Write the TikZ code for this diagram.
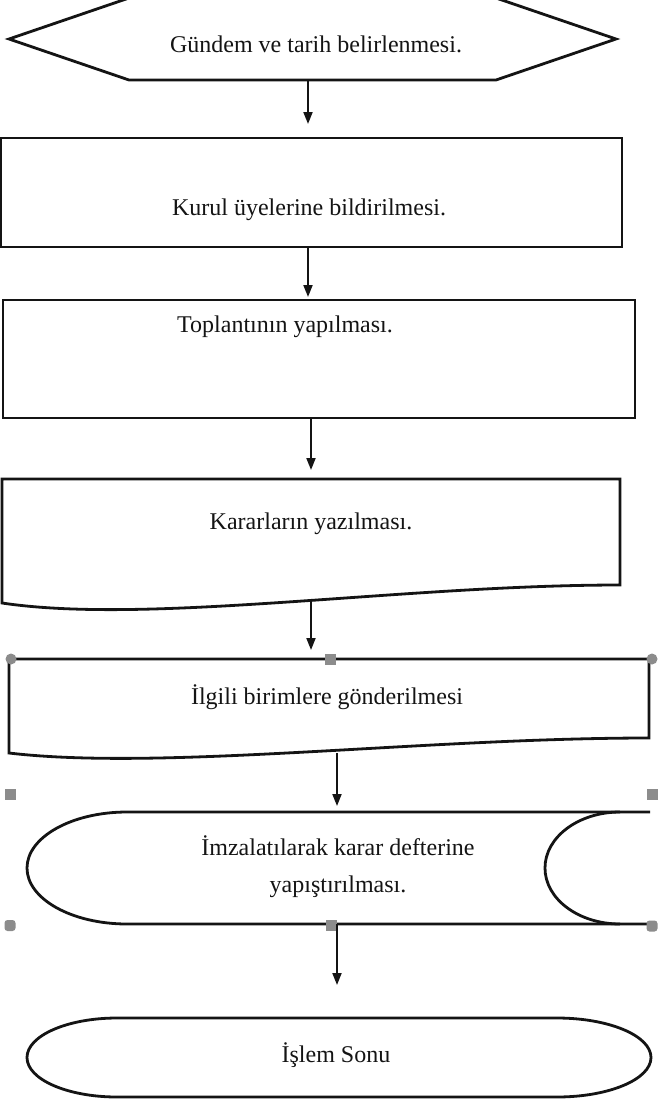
\documentclass[tikz,border=0pt]{standalone}
\usepackage{fontspec}
\setmainfont{Liberation Serif}
\usetikzlibrary{arrows.meta}
\definecolor{hnd}{HTML}{8C8C8C}
\definecolor{ink}{HTML}{141414}
\begin{document}
\begin{tikzpicture}[x=1pt,y=-1pt,
  shapeline/.style={draw=ink, line width=2.8pt, line join=miter},
  conn/.style={draw=ink, line width=1.8pt, -{Triangle[width=9pt,length=12pt]}},
  lbl/.style={font=\fontsize{24}{37}\selectfont, text=ink, inner sep=0pt, align=center},
  hsq/.style={fill=hnd, draw=none},
]
\useasboundingbox (0,0) rectangle (657,1104);
\fill[white] (0,0) rectangle (657,1104);

% 1 hexagon
\draw[shapeline] (9,39) -- (129,-2) -- (496,-2) -- (616,39) -- (496,80) -- (129,80) -- cycle;
\node[lbl] (n1) at (316,44) {Gündem ve tarih belirlenmesi.};

% 2 process
\draw[shapeline] (1,138) rectangle (622,247);
\node[lbl] (n2) at (309,210) {Kurul üyelerine bildirilmesi.};

% 3 process
\draw[shapeline] (3,300) rectangle (635,418);
\node[lbl] (n3) at (285,327) {Toplantının yapılması.};

% 4 document
\draw[shapeline] (2,603) -- (2,479) -- (620,479) -- (620,585)
  .. controls (400,585) and (150,625) .. (2,603) -- cycle;
\node[lbl] (n4) at (311,524) {Kararların yazılması.};

% 5 document
\draw[shapeline] (9,753) -- (9,659) -- (649,659) -- (649,738)
  .. controls (421,738) and (162,771) .. (9,753) -- cycle;
\node[lbl] (n5) at (327,697) {İlgili birimlere gönderilmesi};

% 6 stored data
\draw[shapeline] (650,812) -- (127,812)
  arc[start angle=270, end angle=90, x radius=100, y radius=56] -- (650,924);
\draw[shapeline] (620,812) arc[start angle=270, end angle=90, x radius=75, y radius=56];
\node[lbl] (n6) at (338,867) {İmzalatılarak karar defterine\\yapıştırılması.};

% 7 terminator
\draw[shapeline] (117,1018) -- (557,1018)
  arc[start angle=270, end angle=450, x radius=94, y radius=39.5]
  -- (117,1097)
  arc[start angle=90, end angle=270, x radius=90, y radius=39.5] -- cycle;
\node[lbl] (n7) at (336,1055) {İşlem Sonu};

% selection handles
\fill[hnd] (11,659) circle[radius=5.5];
\fill[hnd] (652,659) circle[radius=5.5];
\fill[hsq] (324.5,653.5) rectangle ++(11,11);
\fill[hsq] (4.5,788.5) rectangle ++(11,11);
\fill[hsq] (646.5,788.5) rectangle ++(11,11);
\fill[hsq, rounded corners=3pt] (4.5,920) rectangle ++(11,11);
\fill[hsq] (325.5,920) rectangle ++(11,11);
\fill[hsq, rounded corners=3pt] (646.5,920.5) rectangle ++(11,11);

% connector ends
\coordinate (a1s) at (308,80);  \coordinate (a1e) at (308,124);
\coordinate (a2s) at (308,247); \coordinate (a2e) at (308,297);
\coordinate (a3s) at (311,418); \coordinate (a3e) at (311,470);
\coordinate (a4s) at (311,601); \coordinate (a4e) at (311,650);
\coordinate (a5s) at (337,753); \coordinate (a5e) at (337,806);
\coordinate (a6s) at (337,924); \coordinate (a6e) at (337,985);

\draw[conn] (a1s) -- (a1e);
\draw[conn] (a2s) -- (a2e);
\draw[conn] (a3s) -- (a3e);
\draw[conn] (a4s) -- (a4e);
\draw[conn] (a5s) -- (a5e);
\draw[conn] (a6s) -- (a6e);
\end{tikzpicture}
\end{document}
